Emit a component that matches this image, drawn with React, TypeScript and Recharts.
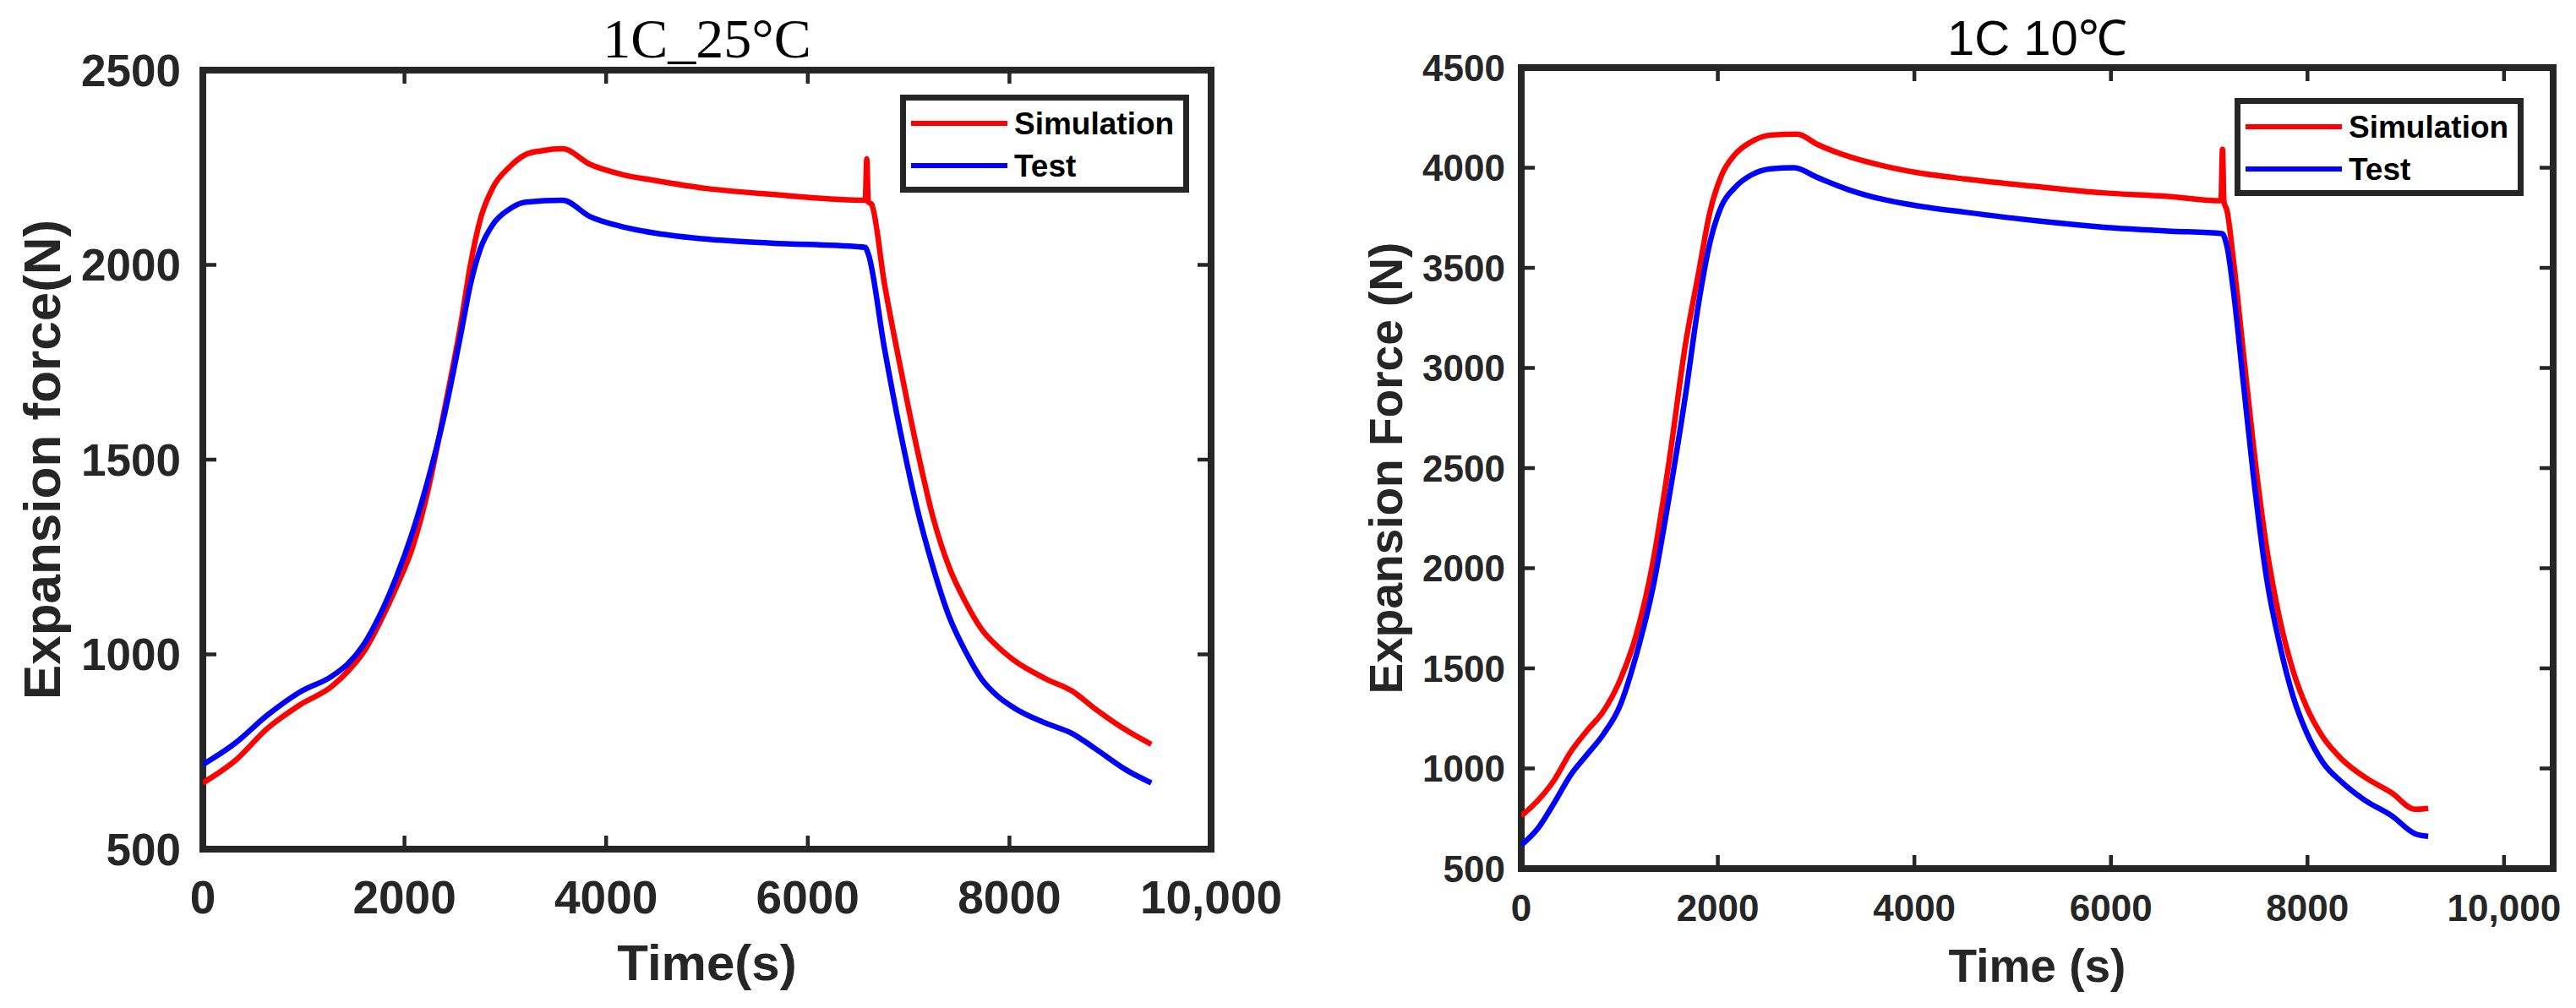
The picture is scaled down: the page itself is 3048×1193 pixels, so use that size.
import React from 'react';
import { LineChart, Line, XAxis, YAxis, Legend, ReferenceArea } from 'recharts';

// ---------- data ----------
const leftSimTime = [0, 320, 640, 960, 1280, 1440, 1600, 1760, 1920, 2080, 2240, 2400, 2560, 2656, 2752, 2880, 3040, 3200, 3360, 3568, 3840, 4160, 4480, 5000, 5638, 6570, 6585, 6600, 6632, 6760, 6920, 7081, 7242, 7402, 7563, 7723, 7883, 8044, 8364, 8621, 8846, 9167, 9407];
const leftSimForce = [670, 727, 810, 870, 918, 957, 1008, 1084, 1173, 1275, 1429, 1633, 1850, 2003, 2117, 2200, 2251, 2283, 2293, 2298, 2258, 2232, 2217, 2196, 2181, 2166, 2272, 2162, 2156, 1952, 1735, 1531, 1352, 1224, 1135, 1065, 1020, 985, 937, 906, 861, 804, 769];

const leftTestTime = [0, 320, 640, 960, 1280, 1440, 1600, 1760, 1920, 2080, 2240, 2400, 2560, 2656, 2752, 2880, 3040, 3200, 3568, 3840, 4160, 4480, 5000, 5638, 6568, 6600, 6760, 6920, 7081, 7242, 7402, 7563, 7723, 7883, 8044, 8364, 8621, 8846, 9167, 9407];
const leftTestForce = [717, 772, 844, 903, 944, 976, 1027, 1103, 1199, 1314, 1454, 1620, 1824, 1952, 2041, 2105, 2143, 2161, 2166, 2124, 2098, 2082, 2066, 2056, 2045, 2028, 1786, 1569, 1378, 1224, 1097, 1008, 937, 893, 863, 823, 797, 759, 702, 670];

const rightSimTime = [0, 167, 334, 502, 669, 836, 1003, 1170, 1338, 1505, 1672, 1806, 1923, 2040, 2174, 2341, 2541, 2809, 3010, 3344, 3678, 4013, 4514, 5243, 5906, 6577, 7120, 7135, 7150, 7181, 7248, 7349, 7450, 7584, 7718, 7852, 7987, 8155, 8356, 8591, 8859, 9094, 9228];
const rightSimForce = [763, 839, 941, 1082, 1189, 1286, 1439, 1668, 2025, 2536, 3122, 3480, 3786, 3964, 4066, 4130, 4163, 4168, 4117, 4054, 4010, 3977, 3944, 3906, 3875, 3857, 3835, 4092, 3830, 3786, 3531, 3071, 2612, 2102, 1745, 1490, 1311, 1158, 1043, 954, 878, 796, 801];

const rightTestTime = [0, 167, 334, 502, 669, 836, 1003, 1170, 1338, 1505, 1672, 1806, 1923, 2040, 2174, 2341, 2541, 2776, 3010, 3344, 3678, 4013, 4514, 5243, 5906, 6577, 7131, 7181, 7248, 7349, 7450, 7584, 7718, 7852, 7987, 8155, 8356, 8591, 8859, 9094, 9228];
const rightTestForce = [617, 699, 827, 967, 1069, 1171, 1311, 1566, 1898, 2357, 2867, 3327, 3633, 3811, 3901, 3964, 3995, 4000, 3952, 3888, 3842, 3811, 3778, 3735, 3704, 3684, 3671, 3607, 3378, 2918, 2459, 1949, 1617, 1362, 1184, 1031, 929, 839, 763, 674, 661];

const xTicks = [0, 2000, 4000, 6000, 8000, 10000];
const xTickLabels = ['0', '2000', '4000', '6000', '8000', '10,000'];
const leftYTicks = [500, 1000, 1500, 2000, 2500];
const rightYTicks = [500, 1000, 1500, 2000, 2500, 3000, 3500, 4000, 4500];
const seriesNames = ['Simulation', 'Test'];
const seriesColors = ['#FF0000', '#0000FF'];
const titles = ['1C_25°C', '1C 10℃'];
const xLabels = ['Time(s)', 'Time (s)'];
const yLabels = ['Expansion force(N)', 'Expansion Force (N)'];

const toPoints = (t: number[], f: number[]) => t.map((x, i) => ({ t: x, f: f[i] }));

const SANS = '"Liberation Sans", Arial, Helvetica, sans-serif';
const SERIF = '"Liberation Serif", "Times New Roman", serif';
const FRAME = '#262626';
const CHART_H = 1193;
const TICK_LEN = 16;

const formatX = (v: number) => {
  const i = xTicks.indexOf(v);
  return i >= 0 ? xTickLabels[i] : String(v);
};

// Text placed at fixed positions inside the chart svg (ignores injected label props)
const AbsText = (props: any) => {
  const { tx, ty, text, fontSize, bold, family, rotate, fill } = props;
  return (
    <text
      x={tx}
      y={ty}
      transform={rotate ? `rotate(-90, ${tx}, ${ty})` : undefined}
      textAnchor="middle"
      fontSize={fontSize}
      fontWeight={bold ? 'bold' : 'normal'}
      fill={fill || FRAME}
      fontFamily={family || SANS}
    >
      {text}
    </text>
  );
};

const LegendBox = (props: any) => {
  const items = props.payload || [];
  return (
    <svg width={342} height={116} style={{ display: 'block' }}>
      <rect x={3.5} y={3.5} width={335} height={109} fill="#fff" stroke={FRAME} strokeWidth={7} />
      {items.map((it: any, i: number) => (
        <g key={i}>
          <line x1={13} x2={127} y1={34 + i * 50} y2={34 + i * 50} stroke={it.color} strokeWidth={6} />
          <text x={135} y={47 + i * 50} fontSize={37} fontWeight="bold" fill="#000" fontFamily={SANS}>
            {it.value}
          </text>
        </g>
      ))}
    </svg>
  );
};

type PanelProps = {
  idx: number;
  left: number;
  width: number;
  marginTop: number;
  marginRight: number;
  yAxisWidth: number;
  xAxisHeight: number;
  xDomain: [number, number];
  yDomain: [number, number];
  yTicks: number[];
  sim: { t: number; f: number }[];
  test: { t: number; f: number }[];
  xTickFont: number;
  yTickFont: number;
  xTickGap: number;
  yTickGap: number;
  xLabelFont: number;
  xLabelBaseline: number;
  yLabelFont: number;
  yLabelBase: number;
  titleFont: number;
  titleBaseline: number;
  titleFamily: string;
  legendLeft: number;
  legendTop: number;
};

const Panel = (p: PanelProps) => {
  const plotLeft = p.yAxisWidth;
  const plotRight = p.width - p.marginRight;
  const plotTop = p.marginTop;
  const plotBottom = CHART_H - p.xAxisHeight;
  const plotCx = (plotLeft + plotRight) / 2;
  const plotCy = (plotTop + plotBottom) / 2;

  const XTick = (tp: any) => {
    const { x, payload } = tp;
    return (
      <g>
        <line x1={x} x2={x} y1={plotBottom} y2={plotBottom - TICK_LEN} stroke={FRAME} strokeWidth={4.5} />
        <line x1={x} x2={x} y1={plotTop} y2={plotTop + TICK_LEN} stroke={FRAME} strokeWidth={4.5} />
        <text
          x={x}
          y={plotBottom + p.xTickGap}
          dy="0.71em"
          textAnchor="middle"
          fontSize={p.xTickFont}
          fontWeight="bold"
          fill={FRAME}
          fontFamily={SANS}
        >
          {formatX(payload.value)}
        </text>
      </g>
    );
  };

  const YTick = (tp: any) => {
    const { y, payload } = tp;
    return (
      <g>
        <line x1={plotLeft} x2={plotLeft + TICK_LEN} y1={y} y2={y} stroke={FRAME} strokeWidth={4.5} />
        <line x1={plotRight} x2={plotRight - TICK_LEN} y1={y} y2={y} stroke={FRAME} strokeWidth={4.5} />
        <text
          x={plotLeft - p.yTickGap}
          y={y}
          dy="0.355em"
          textAnchor="end"
          fontSize={p.yTickFont}
          fontWeight="bold"
          fill={FRAME}
          fontFamily={SANS}
        >
          {payload.value}
        </text>
      </g>
    );
  };

  return (
    <div style={{ position: 'absolute', left: p.left, top: 0 }}>
      <LineChart width={p.width} height={CHART_H} margin={{ top: p.marginTop, right: p.marginRight, bottom: 0, left: 0 }}>
        <XAxis
          xAxisId="b"
          type="number"
          dataKey="t"
          domain={p.xDomain}
          ticks={xTicks}
          allowDataOverflow
          height={p.xAxisHeight}
          axisLine={false}
          tickLine={false}
          tick={<XTick />}
          interval={0}
          label={<AbsText tx={plotCx} ty={p.xLabelBaseline} text={xLabels[p.idx]} fontSize={p.xLabelFont} bold />}
        />
        <YAxis
          yAxisId="l"
          type="number"
          domain={p.yDomain}
          ticks={p.yTicks}
          allowDataOverflow
          width={p.yAxisWidth}
          axisLine={false}
          tickLine={false}
          tick={<YTick />}
          interval={0}
          label={<AbsText tx={p.yLabelBase} ty={plotCy} text={yLabels[p.idx]} fontSize={p.yLabelFont} bold rotate />}
        />
        <Legend
          layout="vertical"
          align="center"
          verticalAlign="middle"
          wrapperStyle={{ left: p.legendLeft, top: p.legendTop, width: 342, height: 116 }}
          content={(lp: any) => <LegendBox payload={lp.payload} />}
        />
        <Line
          xAxisId="b"
          yAxisId="l"
          data={p.sim}
          dataKey="f"
          name={seriesNames[0]}
          stroke={seriesColors[0]}
          strokeWidth={6.5}
          dot={false}
          type="monotone"
          isAnimationActive={false}
        />
        <Line
          xAxisId="b"
          yAxisId="l"
          data={p.test}
          dataKey="f"
          name={seriesNames[1]}
          stroke={seriesColors[1]}
          strokeWidth={6.5}
          dot={false}
          type="monotone"
          isAnimationActive={false}
        />
        <ReferenceArea
          xAxisId="b"
          yAxisId="l"
          x1={p.xDomain[0]}
          x2={p.xDomain[1]}
          y1={p.yDomain[0]}
          y2={p.yDomain[1]}
          fill="none"
          fillOpacity={0}
          stroke={FRAME}
          strokeWidth={8}
          strokeOpacity={1}
          ifOverflow="visible"
          label={
            <AbsText
              tx={plotCx}
              ty={p.titleBaseline}
              text={titles[p.idx]}
              fontSize={p.titleFont}
              family={p.titleFamily}
              fill="#000"
            />
          }
        />
      </LineChart>
    </div>
  );
}

export default function App() {
  return (
    <div style={{ position: 'absolute', left: 0, top: 0, width: 3048, height: 1193, background: '#fff', overflow: 'hidden' }}>
      <Panel
        idx={0}
        left={0}
        width={1520}
        marginTop={83}
        marginRight={87}
        yAxisWidth={240}
        xAxisHeight={188}
        xDomain={[0, 10000]}
        yDomain={[500, 2500]}
        yTicks={leftYTicks}
        sim={toPoints(leftSimTime, leftSimForce)}
        test={toPoints(leftTestTime, leftTestForce)}
        xTickFont={55}
        yTickFont={53}
        xTickGap={37}
        yTickGap={26}
        xLabelFont={60}
        xLabelBaseline={1160}
        yLabelFont={62}
        yLabelBase={71}
        titleFont={66}
        titleBaseline={68}
        titleFamily={SERIF}
        legendLeft={1065}
        legendTop={112}
      />
      <Panel
        idx={1}
        left={1520}
        width={1528}
        marginTop={80}
        marginRight={27}
        yAxisWidth={280}
        xAxisHeight={165}
        xDomain={[0, 10500]}
        yDomain={[500, 4500]}
        yTicks={rightYTicks}
        sim={toPoints(rightSimTime, rightSimForce)}
        test={toPoints(rightTestTime, rightTestForce)}
        xTickFont={44}
        yTickFont={44}
        xTickGap={31}
        yTickGap={19}
        xLabelFont={55}
        xLabelBaseline={1162}
        yLabelFont={55}
        yLabelBase={139}
        titleFont={58}
        titleBaseline={65}
        titleFamily={SANS}
        legendLeft={1124}
        legendTop={116}
      />
    </div>
  );
}
